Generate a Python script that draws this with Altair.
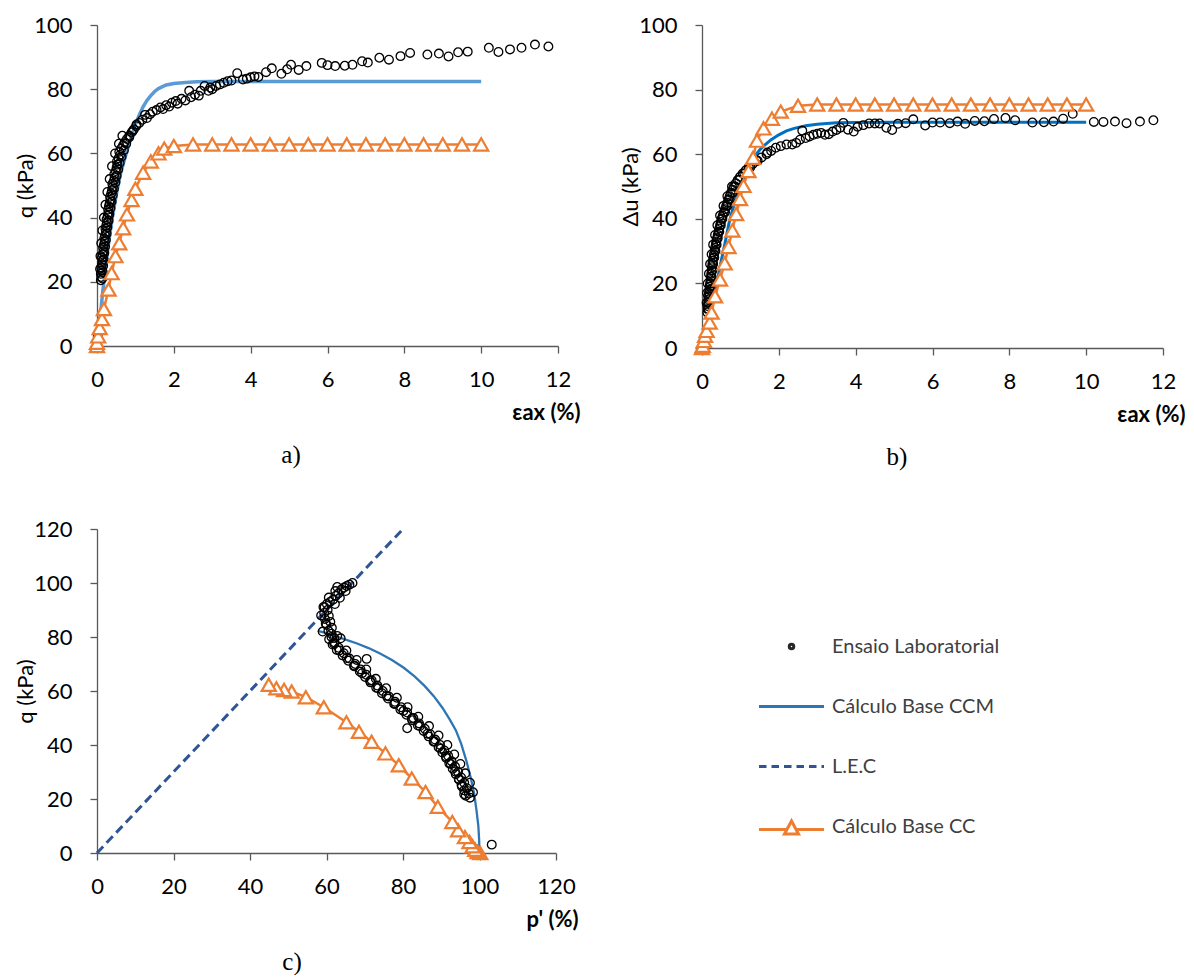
import altair as alt
import pandas as pd

# ---------------- Panel a: q vs eps_ax ----------------
a_lab_eps = [0.02, 0.10, 0.11, 0.10, 0.12, 0.11, 0.13, 0.14, 0.13, 0.15, 0.17, 0.16, 0.18, 0.20, 0.19,
             0.21, 0.23, 0.22, 0.24, 0.26, 0.25, 0.28, 0.30, 0.29, 0.31, 0.33, 0.35, 0.34, 0.37, 0.39,
             0.41, 0.40, 0.44, 0.46, 0.45, 0.49, 0.51, 0.53, 0.52, 0.56, 0.60, 0.58, 0.63, 0.68, 0.72,
             0.78, 0.84, 0.90, 0.96, 1.02, 1.10, 1.18, 1.25, 1.30, 1.38, 1.45, 1.55, 1.65, 1.72, 1.80,
             1.88, 1.95, 2.05, 2.10, 2.20, 2.30, 2.40, 2.45, 2.55, 2.65, 2.70, 2.80, 2.90, 2.95, 3.00,
             3.10, 3.20, 3.30, 3.40, 3.50, 3.65, 3.80, 3.90, 4.00, 4.10, 4.20, 4.40, 4.55, 4.80, 4.95,
             5.05, 5.25, 5.45, 5.85, 6.00, 6.20, 6.45, 6.65, 6.90, 7.05, 7.35, 7.60, 7.90, 8.15, 8.60,
             8.90, 9.15, 9.40, 9.65, 10.20, 10.45, 10.75, 11.05, 11.40, 11.75,
             0.14, 0.15, 0.16, 0.17, 0.19, 0.21, 0.23, 0.25, 0.27, 0.30, 0.32, 0.35, 0.38, 0.41, 0.44,
             0.48, 0.51, 0.55, 0.59, 0.64, 0.70, 0.76, 0.84, 0.93, 1.03, 0.08, 0.09, 0.11, 0.14, 0.18,
             0.22, 0.27, 0.33, 0.39, 0.47, 0.57, 0.66]
a_lab_q = [3.0, 20.5, 21.5, 22.5, 23.5, 24.5, 25.5, 26.5, 27.5, 28.5, 29.5, 30.5, 31.5, 32.5, 33.5,
           34.5, 35.5, 36.5, 37.5, 38.5, 39.5, 40.5, 41.5, 42.5, 43.5, 44.5, 45.5, 46.5, 47.5, 48.5,
           49.5, 50.5, 51.5, 52.5, 53.5, 54.5, 55.5, 56.5, 57.5, 58.5, 59.5, 60.5, 61.5, 62.5, 63.5,
           64.5, 65.5, 66.5, 67.5, 68.5, 69.5, 70.5, 72.0, 71.0, 72.2, 73.0, 73.5, 74.3, 73.8, 75.0,
           74.6, 75.8, 76.3, 75.5, 77.0, 76.5, 79.5, 77.5, 78.3, 78.0, 79.5, 81.0, 79.5, 80.5, 80.0,
           81.0, 81.5, 82.0, 82.5, 82.7, 85.0, 83.0, 83.3, 83.7, 84.0, 83.8, 85.3, 86.5, 84.8, 86.2,
           87.6, 86.0, 87.2, 88.2, 87.5, 87.2, 87.3, 87.6, 88.7, 88.3, 89.8, 89.2, 90.3, 91.3, 90.8,
           91.1, 90.2, 91.5, 91.7, 92.9, 91.6, 92.4, 92.9, 93.9, 93.3,
           21.0, 23.0, 25.0, 27.0, 29.0, 31.0, 33.0, 35.0, 37.0, 39.0, 41.0, 43.0, 45.0, 47.0, 49.0,
           51.0, 53.0, 55.0, 57.0, 59.0, 61.0, 63.0, 65.0, 67.0, 69.0, 24.0, 28.0, 32.0, 36.0, 40.0,
           44.0, 48.0, 52.0, 56.0, 60.0, 63.0, 65.5]
a_ccm_eps = [0, 0.05, 0.1, 0.15, 0.2, 0.3, 0.4, 0.5, 0.6, 0.7, 0.8, 0.9, 1.0, 1.1, 1.2, 1.3, 1.4,
             1.5, 1.6, 1.8, 2.0, 2.3, 2.6, 3.0, 3.5, 4.0, 5.0, 6.0, 8.0, 10.0]
a_ccm_q = [0, 5, 11, 17, 22, 32, 40, 47, 53, 57.5, 61.5, 65.5, 69, 72, 74.5, 76.5, 78, 79.3, 80.2,
           81.3, 81.8, 82.1, 82.3, 82.4, 82.4, 82.4, 82.4, 82.4, 82.4, 82.4]
a_cc_eps = [0, 0, 0.03, 0.07, 0.13, 0.18, 0.30, 0.38, 0.48, 0.58, 0.68, 0.78, 0.90, 1.0, 1.2, 1.4,
            1.6, 1.75, 2.0, 2.5, 3.0, 3.5, 4.0, 4.5, 5.0, 5.5, 6.0, 6.5, 7.0, 7.5, 8.0, 8.5, 9.0,
            9.5, 10.0]
a_cc_q = [0, 1, 3, 5.6, 8.4, 11.5, 17.6, 22.7, 28, 32, 36.7, 41, 45.5, 49, 54, 57.5, 60, 61.5,
          62.3, 62.8, 62.8, 62.8, 62.8, 62.8, 62.8, 62.8, 62.8, 62.8, 62.8, 62.8, 62.8, 62.8, 62.8,
          62.8, 62.8]

# ---------------- Panel b: du vs eps_ax ----------------
b_lab_eps = [0.0, 0.14, 0.15, 0.14, 0.16, 0.17, 0.16, 0.18, 0.19, 0.20, 0.21, 0.22, 0.23, 0.24, 0.25,
             0.26, 0.27, 0.28, 0.30, 0.31, 0.33, 0.34, 0.36, 0.37, 0.39, 0.41, 0.43, 0.45, 0.47, 0.49,
             0.51, 0.54, 0.57, 0.60, 0.63, 0.66, 0.69, 0.72, 0.75, 0.79, 0.83, 0.88, 0.93, 0.99, 1.06,
             1.14, 1.22, 1.32, 1.42, 1.55, 1.68, 1.80, 1.92, 2.05, 2.20, 2.35, 2.45, 2.55, 2.61, 2.70,
             2.80, 2.90, 3.00, 3.10, 3.20, 3.30, 3.40, 3.50, 3.60, 3.68, 3.80, 3.95, 4.05, 4.20, 4.35,
             4.50, 4.62, 4.80, 4.95, 5.10, 5.30, 5.50, 5.81, 6.00, 6.20, 6.45, 6.65, 6.85, 7.10, 7.35,
             7.60, 7.90, 8.15, 8.60, 8.90, 9.15, 9.40, 9.65, 10.20, 10.45, 10.75, 11.05, 11.40, 11.75,
             0.17, 0.18, 0.19, 0.21, 0.23, 0.25, 0.27, 0.29, 0.32, 0.35, 0.38, 0.41, 0.45, 0.49, 0.53,
             0.60, 0.66, 0.72, 0.79, 0.87, 0.97, 1.10, 1.26, 1.45, 1.70, 0.12, 0.13, 0.15, 0.18, 0.21,
             0.25, 0.29, 0.34, 0.40, 0.47, 0.56, 0.66, 0.78]
b_lab_du = [0.0, 11, 12, 13, 14, 15, 16, 17, 18, 19, 20, 21, 22, 23, 24,
            25, 26, 27, 28, 29, 30, 31, 32, 33, 34, 35, 36, 37, 38, 39,
            40, 41, 42, 43, 44, 45, 46, 47, 48, 49, 50, 51, 52, 53, 54,
            55, 56, 57, 58, 59, 60, 61, 62, 62.5, 63, 63, 63.5, 64.5, 67.3, 65,
            65.5, 66, 66.3, 66.6, 66, 66.2, 67, 67.5, 68.2, 69.7, 67.6, 67, 68.5, 69, 69.5,
            69.5, 69.5, 68.2, 67.5, 69.4, 69.6, 70.8, 68.9, 69.8, 69.8, 69.6, 70.1, 69.4, 70.3, 70.2,
            70.9, 71.2, 70.5, 69.8, 69.9, 70.1, 71.0, 72.5, 70.0, 70.0, 70.1, 69.6, 70.1, 70.5,
            12, 14, 16, 18, 20, 22, 24, 26, 28, 30, 32, 34, 36, 38, 40,
            42, 44, 46, 48, 50, 52, 54, 56, 58, 60.5, 14, 17, 20, 23, 26,
            29, 32, 35, 38, 41, 44, 47, 50]
b_ccm_eps = [0, 0.1, 0.2, 0.3, 0.4, 0.5, 0.6, 0.7, 0.8, 0.9, 1.0, 1.1, 1.2, 1.3, 1.4, 1.5, 1.6,
             1.8, 2.0, 2.2, 2.4, 2.7, 3.0, 3.5, 4.0, 5.0, 6.0, 8.0, 10.0]
b_ccm_du = [0, 4, 10, 15.5, 21, 27, 32.5, 38.5, 43, 47, 50.5, 53.5, 56, 58, 59.8, 61.3, 62.5,
            64.5, 66, 67.2, 68, 68.8, 69.3, 69.7, 69.8, 69.9, 69.9, 69.9, 69.9]
b_cc_eps = [0, 0.02, 0.05, 0.08, 0.12, 0.2, 0.25, 0.34, 0.47, 0.59, 0.69, 0.79, 0.89, 0.99, 1.08,
            1.21, 1.33, 1.43, 1.6, 1.82, 2.05, 2.5, 3.0, 3.5, 4.0, 4.5, 5.0, 5.5, 6.0, 6.5, 7.0,
            7.5, 8.0, 8.5, 9.0, 9.5, 10.0]
b_cc_du = [0, 0.7, 2.2, 3.8, 5.3, 7.9, 11, 16, 21.2, 26.2, 31.3, 36.4, 41.5, 46.1, 50.2, 54.8,
           58.9, 64.2, 68, 71, 73.2, 75, 75.4, 75.4, 75.4, 75.4, 75.4, 75.4, 75.4, 75.4, 75.4,
           75.4, 75.4, 75.4, 75.4, 75.4, 75.4]

# ---------------- Panel c: q vs p' ----------------
c_lab_p = [103.2, 97.5, 96.4, 97.2, 96.0, 96.7, 95.3, 96.0, 94.6, 95.2, 93.8, 94.4, 93.0, 93.6, 92.1,
           92.7, 91.3, 91.8, 90.3, 90.8, 89.3, 89.7, 88.0, 88.4, 86.7, 87.1, 85.4, 85.7, 83.9, 84.2,
           82.4, 82.7, 80.9, 81.1, 79.3, 79.5, 77.7, 77.9, 76.1, 76.3, 74.5, 74.7, 73.0, 73.3, 71.5,
           71.8, 70.1, 70.4, 68.7, 68.9, 67.2, 67.5, 65.7, 66.0, 64.2, 64.5, 62.7, 63.2, 61.6, 62.1,
           60.7, 61.3, 63.7, 62.8, 62.0, 61.3, 60.5, 61.4, 60.0, 61.0, 59.6, 60.6, 59.4, 60.3, 59.2,
           60.1, 60.9, 61.7, 60.6, 62.4, 63.1, 62.3, 63.9, 64.6, 65.3, 66.0, 66.8, 70.5, 81.1,
           96.0, 95.4, 94.6, 93.6, 92.5, 91.2, 89.8, 88.2, 86.4, 84.4, 82.3, 80.1, 77.9, 75.7, 73.5,
           71.4, 69.3, 67.3, 65.3, 63.4, 62.0, 98.3, 97.5, 96.3, 95.0, 93.4, 91.6, 89.3, 86.8, 84.0,
           81.2, 78.4, 75.6, 72.9, 70.4, 67.9, 65.2, 59.0, 59.8, 58.6, 59.5, 62.2, 63.5, 65.0, 62.8]
c_lab_q = [3.1, 20.5, 21.2, 22.0, 23.2, 24.0, 25.2, 26.0, 27.2, 28.0, 29.2, 30.0, 31.2, 32.0, 33.2,
           34.0, 35.2, 36.0, 37.2, 38.0, 39.2, 40.0, 41.2, 42.0, 43.2, 44.0, 45.2, 46.0, 47.2, 48.0,
           49.2, 50.0, 51.2, 52.0, 53.2, 54.0, 55.2, 56.0, 57.2, 58.0, 59.2, 60.0, 61.2, 62.0, 63.2,
           64.0, 65.2, 66.0, 67.2, 68.0, 69.2, 70.0, 71.2, 72.0, 73.2, 74.0, 75.2, 76.0, 77.2, 78.0,
           79.2, 80.0, 79.5, 80.4, 79.6, 81.2, 82.3, 83.4, 84.5, 85.6, 86.7, 87.8, 88.9, 90.0, 91.1,
           92.2, 93.0, 93.8, 94.6, 95.2, 96.1, 97.0, 97.6, 98.3, 98.9, 99.4, 100.0, 71.9, 46.2,
           21.8, 24.6, 27.4, 30.2, 33.0, 35.8, 38.6, 41.4, 44.2, 47.0, 49.8, 52.6, 55.4, 58.2, 61.0,
           63.8, 66.6, 69.4, 72.2, 75.0, 77.5, 22.5, 26.0, 29.5, 33.0, 36.5, 40.0, 43.5, 47.0, 50.5,
           54.0, 57.5, 61.0, 64.5, 68.0, 71.5, 75.0, 82.0, 85.0, 88.0, 91.0, 92.2, 94.5, 97.0, 98.5]
c_ccm_p = [100.0, 99.9, 99.7, 99.2, 98.6, 97.7, 96.6, 95.2, 93.8, 92.2, 90.3, 88.1, 85.7, 83.1,
           80.2, 77.1, 74.0, 71.0, 68.0, 65.0, 62.0, 60.0, 57.7]
c_ccm_q = [0, 5, 10, 16, 22, 28, 34, 40.5, 45.5, 49.5, 53.8, 58, 61.8, 65.3, 68.6, 71.5, 73.9,
           75.9, 77.6, 79.0, 80.5, 81.4, 82.3]
c_cc_p = [100.2, 99.5, 98.9, 98.2, 97.4, 96.2, 94.4, 92.9, 89.1, 85.9, 82.3, 78.9, 75.4, 71.8,
          68.5, 65.2, 59.3, 54.6, 50.9, 48.9, 46.9, 44.9]
c_cc_q = [0, 0.4, 1.2, 2.5, 4.1, 5.9, 8.4, 11.5, 17.1, 22.6, 27.6, 32.5, 36.9, 41.2, 44.9, 48.4,
          54.0, 57.7, 59.8, 60.4, 61.0, 62.3]
lec_p = [0, 80]
lec_q = [0, 120]

# ---------------- Legend ----------------
legend_labels = ["Ensaio Laboratorial", "Cálculo Base CCM", "L.E.C", "Cálculo Base CC"]
legend_colors = ["#262626", "#2E75B6", "#2F5597", "#ED7D31"]
legend_shapes = [
    "M-0.09,0A0.09,0.09,0,1,0,0.09,0A0.09,0.09,0,1,0,-0.09,0Z",
    "M-1.3,0H1.3",
    "M-1.3,0H-1.0M-0.8,0H-0.5M-0.3,0H0M0.2,0H0.5M0.7,0H1.0M1.2,0H1.3",
    "M-1.3,0.12H-0.2M0.2,0.12H1.3M-0.28,0.3L0,-0.22L0.28,0.3Z",
]

FONT = "Lato"
ORANGE = "#ED7D31"


def df(xs, ys):
    return pd.DataFrame({"x": xs, "y": ys, "i": list(range(len(xs)))})


def encs(xdom, xticks, ydom, yticks, xtitle, ytitle, w, h):
    x = alt.X("x:Q", scale=alt.Scale(domain=xdom, nice=False, zero=False),
              axis=alt.Axis(values=xticks, title=xtitle, titleX=w + 22, titleY=66,
                            titleAlign="right", titleBaseline="middle", titleFontWeight="bold",
                            labelPadding=16, labelFlush=False))
    y = alt.Y("y:Q", scale=alt.Scale(domain=ydom, nice=False, zero=False),
              axis=alt.Axis(values=yticks, title=ytitle, titleX=-72, titleY=h / 2,
                            titleAngle=270, titleAlign="center", titleBaseline="middle",
                            labelPadding=18, labelFlush=False))
    return x, y


def lab_layer(d, x, y):
    return alt.Chart(d).mark_point(shape="circle", filled=False, size=75, color="black",
                                   strokeWidth=1.3, opacity=1).encode(x=x, y=y)


def line_layer(d, x, y, color, width, dash=None):
    kw = dict(color=color, strokeWidth=width)
    if dash:
        kw["strokeDash"] = dash
    return alt.Chart(d).mark_line(**kw).encode(x=x, y=y, order="i:Q")


def tri_layer(d, x, y):
    return alt.Chart(d).mark_point(shape="triangle-up", filled=True, fill="white", stroke=ORANGE,
                                   strokeWidth=2.2, size=200, opacity=1).encode(x=x, y=y)


def caption(text, dx):
    return alt.TitleParams(text, orient="bottom", frame="group", anchor="middle", dx=dx,
                           offset=20, font="Liberation Serif", fontSize=25,
                           fontWeight="normal", color="black")


# Panel a
wa, ha = 461, 321
xa, ya = encs([0, 12], [0, 2, 4, 6, 8, 10, 12], [0, 100], [0, 20, 40, 60, 80, 100],
              "εax (%)", "q (kPa)", wa, ha)
cc_a = df(a_cc_eps, a_cc_q)
panel_a = alt.layer(
    line_layer(df(a_ccm_eps, a_ccm_q), xa, ya, "#5B9BD5", 3.5),
    lab_layer(df(a_lab_eps, a_lab_q), xa, ya),
    line_layer(cc_a, xa, ya, ORANGE, 2.5),
    tri_layer(cc_a, xa, ya),
).properties(width=wa, height=ha, title=caption("a)", -36.5))

# Panel b
wb, hb = 461, 323
xb, yb = encs([0, 12], [0, 2, 4, 6, 8, 10, 12], [0, 100], [0, 20, 40, 60, 80, 100],
              "εax (%)", "Δu (kPa)", wb, hb)
cc_b = df(b_cc_eps, b_cc_du)
panel_b = alt.layer(
    line_layer(df(b_ccm_eps, b_ccm_du), xb, yb, "#0070C0", 3),
    lab_layer(df(b_lab_eps, b_lab_du), xb, yb),
    line_layer(cc_b, xb, yb, ORANGE, 2.5),
    tri_layer(cc_b, xb, yb),
).properties(width=wb, height=hb, title=caption("b)", -35.5))

# Panel c
wc, hc = 459, 324
xc, yc = encs([0, 120], [0, 20, 40, 60, 80, 100, 120], [0, 120], [0, 20, 40, 60, 80, 100, 120],
              "p' (%)", "q (kPa)", wc, hc)
cc_c = df(c_cc_p, c_cc_q)
leg_df = pd.DataFrame({"series": legend_labels, "x": [lec_p[0]] * 4, "y": [lec_q[0]] * 4})
leg_params = dict(title=None, orient="none", legendX=668, legendY=595, symbolSize=2500,
                  symbolStrokeWidth=3, symbolOpacity=1, labelFont=FONT, labelFontSize=20,
                  labelColor="#404040", labelOffset=14, rowPadding=23, padding=0, labelLimit=500)
legend_layer = alt.Chart(leg_df).transform_filter("datum.x < 0").mark_point(
    filled=False, strokeWidth=3).encode(
    x=xc, y=yc,
    color=alt.Color("series:N", scale=alt.Scale(domain=legend_labels, range=legend_colors),
                    legend=alt.Legend(**leg_params)),
    shape=alt.Shape("series:N", scale=alt.Scale(domain=legend_labels, range=legend_shapes),
                    legend=alt.Legend(**leg_params)),
)
panel_c = alt.layer(
    line_layer(df(lec_p, lec_q), xc, yc, "#2F5597", 3, [9, 5]),
    line_layer(df(c_ccm_p, c_ccm_q), xc, yc, "#2E75B6", 2.3),
    lab_layer(df(c_lab_p, c_lab_q), xc, yc),
    line_layer(cc_c, xc, yc, ORANGE, 2.5),
    tri_layer(cc_c, xc, yc),
    legend_layer,
).properties(width=wc, height=hc, title=caption("c)", -34.5))

chart = alt.concat(panel_a, panel_b, panel_c, columns=2,
                   spacing={"row": 181, "column": 144}, bounds="flush").properties(
    padding={"left": 14, "top": 14, "right": 0, "bottom": 0}
).configure(
    background="white",
).configure_view(stroke=None).configure_axis(
    labelFont=FONT, labelFontSize=22, labelColor="black", titleFont=FONT, titleFontSize=22,
    titleColor="black", titleFontWeight="normal", grid=False, domainColor="#595959",
    domainWidth=1.3, tickColor="#595959", tickSize=7, tickWidth=1.3,
)

chart.save("out.html", embed_options={"renderer": "svg", "actions": False})
